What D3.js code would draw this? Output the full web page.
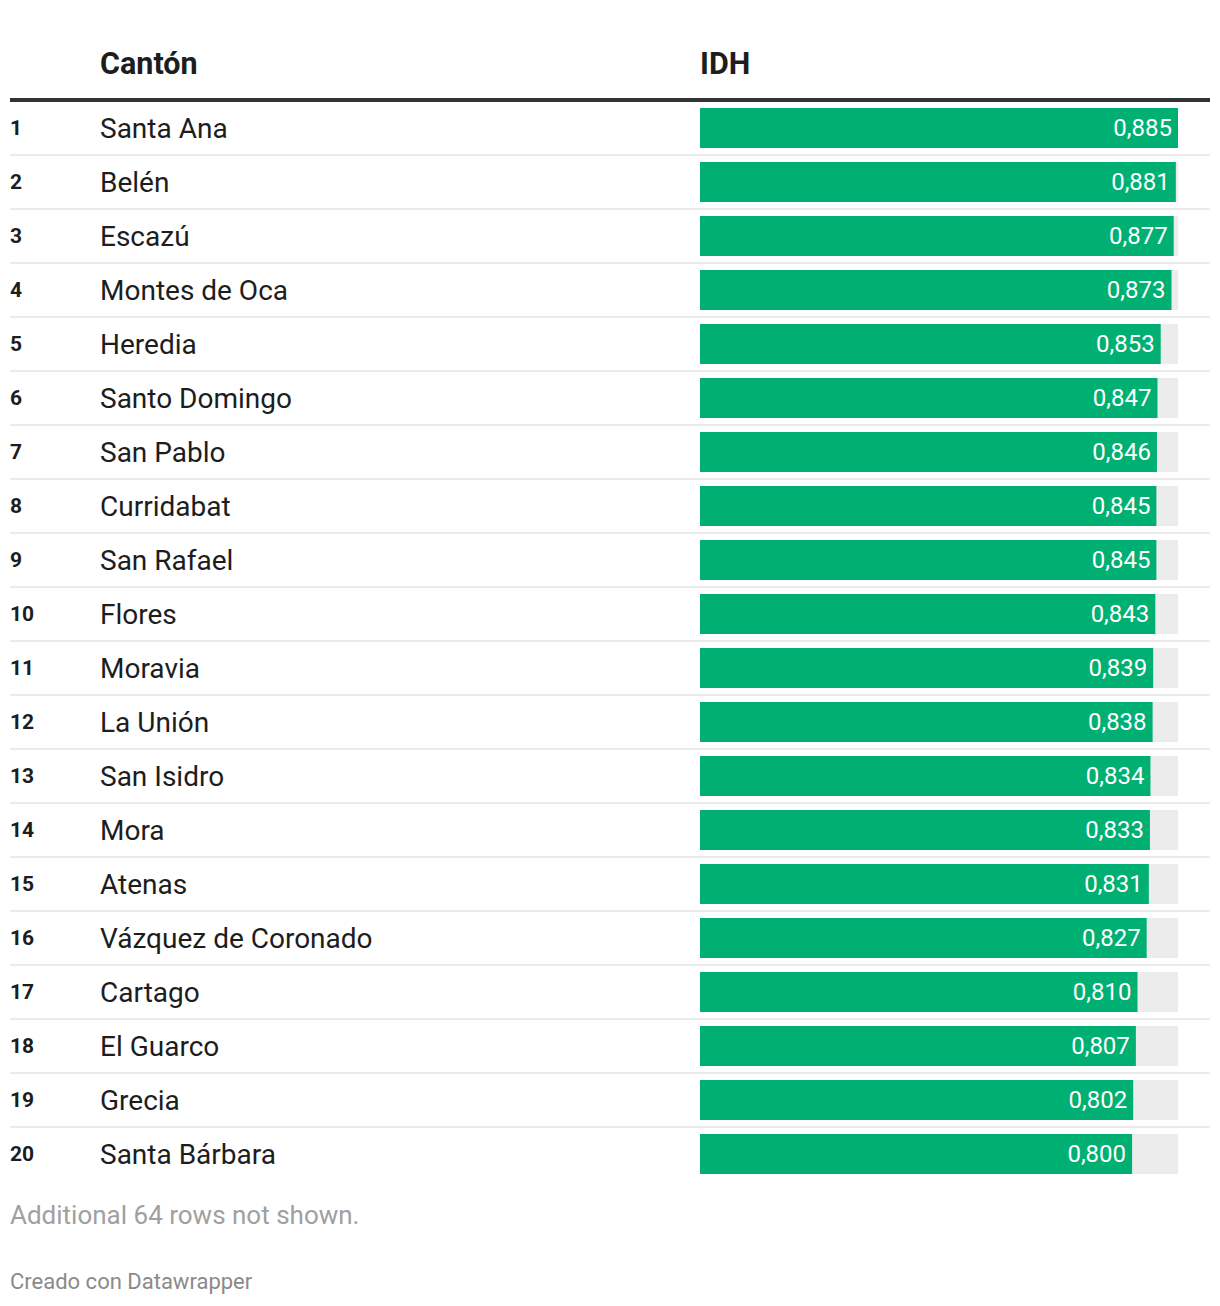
<!DOCTYPE html>
<html>
<head>
<meta charset="utf-8">
<script src="https://cdn.jsdelivr.net/npm/d3@7"></script>
<style>
  html, body { margin: 0; padding: 0; background: #fff; }
  svg { display: block; font-family: Roboto, "Noto Sans", sans-serif; }
</style>
</head>
<body>
<svg id="chart" width="1220" height="1306"></svg>
<script>
const ranks = [1,2,3,4,5,6,7,8,9,10,11,12,13,14,15,16,17,18,19,20];
const cantones = ["Santa Ana","Belén","Escazú","Montes de Oca","Heredia","Santo Domingo","San Pablo","Curridabat","San Rafael","Flores","Moravia","La Unión","San Isidro","Mora","Atenas","Vázquez de Coronado","Cartago","El Guarco","Grecia","Santa Bárbara"];
const idh = [0.885,0.881,0.877,0.873,0.853,0.847,0.846,0.845,0.845,0.843,0.839,0.838,0.834,0.833,0.831,0.827,0.810,0.807,0.802,0.800];
const headers = ["Cantón", "IDH"];
const footerNote = "Additional 64 rows not shown.";
const credit = "Creado con Datawrapper";

const svg = d3.select("#chart");
const locale = d3.formatLocale({decimal: ",", thousands: ".", grouping: [3], currency: ["", ""]});
const fmt = locale.format(".3f");

const x = d3.scaleLinear().domain([0, d3.max(idh)]).range([700, 1178]);
const y = d3.scaleLinear().domain([0, ranks.length - 1]).range([128, 1154]);
const barH = 40;

// headers
svg.append("text").attr("x", 100).attr("y", 74).text(headers[0])
  .attr("font-size", 30.5).attr("font-weight", 700).attr("fill", "#1d1d1d");
svg.append("text").attr("x", 700).attr("y", 74).text(headers[1])
  .attr("font-size", 30.5).attr("font-weight", 700).attr("fill", "#1d1d1d");
svg.append("rect").attr("x", 10).attr("y", 98).attr("width", 1200).attr("height", 4).attr("fill", "#333");

const rows = svg.append("g").selectAll("g").data(idh.map((v, i) => ({v, i})))
  .join("g").attr("transform", d => `translate(0,${y(d.i)})`);

rows.filter(d => d.i < ranks.length - 1).append("rect")
  .attr("x", 10).attr("y", 26).attr("width", 1200).attr("height", 2).attr("fill", "#ebebeb");

rows.append("text").attr("x", 10).attr("y", 0).attr("dy", "0.35em")
  .attr("font-size", 21).attr("font-weight", 700).attr("fill", "#1d1d1d")
  .text(d => ranks[d.i]);

rows.append("text").attr("x", 100).attr("y", 0).attr("dy", "0.35em")
  .attr("font-size", 28).attr("fill", "#1d1d1d")
  .text(d => cantones[d.i]);

rows.append("rect").attr("x", x(0)).attr("y", -barH/2)
  .attr("width", x(d3.max(idh)) - x(0)).attr("height", barH).attr("fill", "#ececec");

rows.append("rect").attr("x", x(0)).attr("y", -barH/2)
  .attr("width", d => x(d.v) - x(0)).attr("height", barH).attr("fill", "#00b072");

rows.append("text").attr("x", d => x(d.v) - 6).attr("dy", "0.35em")
  .attr("text-anchor", "end").attr("font-size", 24).attr("fill", "#fff")
  .text(d => fmt(d.v));

svg.append("text").attr("x", 10).attr("y", 1224).text(footerNote)
  .attr("font-size", 26).attr("fill", "#a0a0a0");
svg.append("text").attr("x", 10).attr("y", 1289).text(credit)
  .attr("font-size", 22).attr("fill", "#8a8a8a");
</script>
</body>
</html>
